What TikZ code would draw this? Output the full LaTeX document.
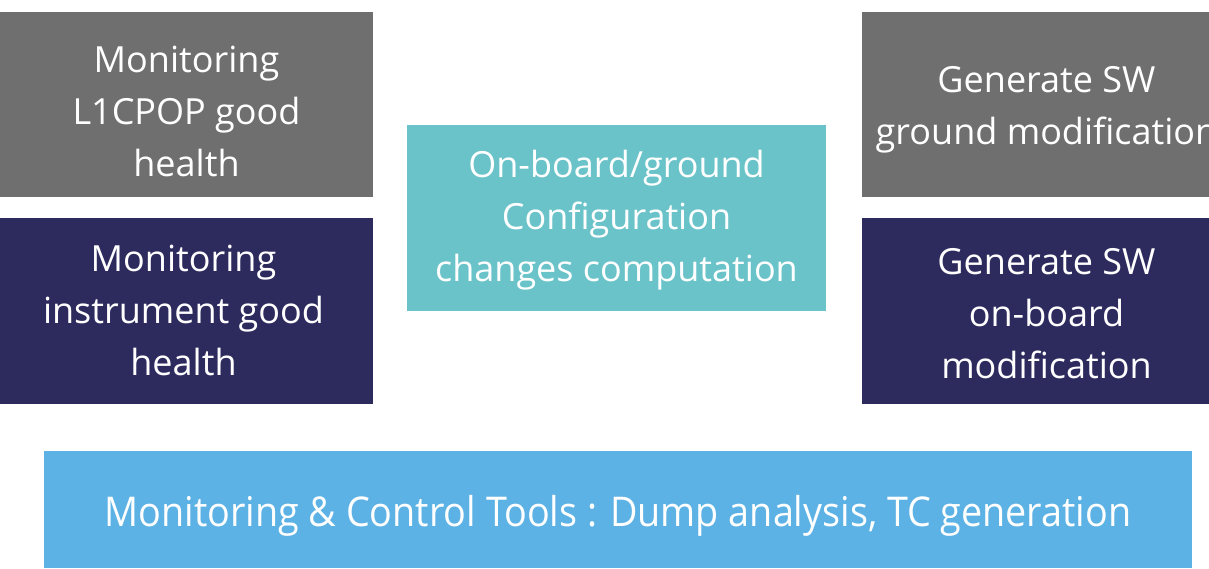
\documentclass[tikz,border=0pt]{standalone}
\usepackage{fontspec}
\setmainfont{Open Sans}
\definecolor{boxgray}{HTML}{6F6F6F}
\definecolor{boxnavy}{HTML}{2D2B5E}
\definecolor{boxteal}{HTML}{6BC3CA}
\definecolor{boxblue}{HTML}{5DB2E5}
\begin{document}
\begin{tikzpicture}[x=1pt,y=1pt,
  tile/.style={rectangle, inner sep=0pt, outer sep=0pt, anchor=north west},
  label text/.style={inner sep=0pt, text=white, align=center, font=\fontsize{36}{52}\selectfont},
  wide text/.style={inner sep=0pt, text=white, font=\fontsize{41}{50}\selectfont}]
\useasboundingbox (0,0) rectangle (1209,568);
\clip (0,0) rectangle (1209,568);
\node[tile, fill=boxgray, minimum width=373pt, minimum height=185pt] (lg) at (0,556) {};
\node[tile, fill=boxnavy, minimum width=373pt, minimum height=186pt] (ln) at (0,350) {};
\node[tile, fill=boxteal, minimum width=419pt, minimum height=186pt] (ct) at (407,443) {};
\node[tile, fill=boxgray, minimum width=373pt, minimum height=185pt] (rg) at (862,556) {};
\node[tile, fill=boxnavy, minimum width=373pt, minimum height=186pt] (rn) at (862,350) {};
\node[tile, fill=boxblue, minimum width=1148pt, minimum height=117pt] (bt) at (44,117) {};
\node[label text, yshift=-7pt] (lgt) at (lg.center) {Monitoring\\L1CPOP good\\health};
\node[label text, yshift=1pt, xshift=-3pt] (lnt) at (ln.center) {Monitoring\\instrument good\\health};
\node[label text, yshift=-2pt] (ctt) at (ct.center) {On-board/ground\\Configuration\\changes computation};
\node[label text, yshift=-5pt, xshift=-2pt] (rgt) at (rg.center) {Generate SW\\ground modification};
\node[label text, yshift=-3pt, xshift=-2pt] (rnt) at (rn.center) {Generate SW\\on-board\\modification};
\node[wide text, yshift=-6pt] (btt) at (bt.center)
  {\scalebox{0.92}[1]{Monitoring \& Control Tools : Dump analysis, TC generation}};
\end{tikzpicture}
\end{document}
